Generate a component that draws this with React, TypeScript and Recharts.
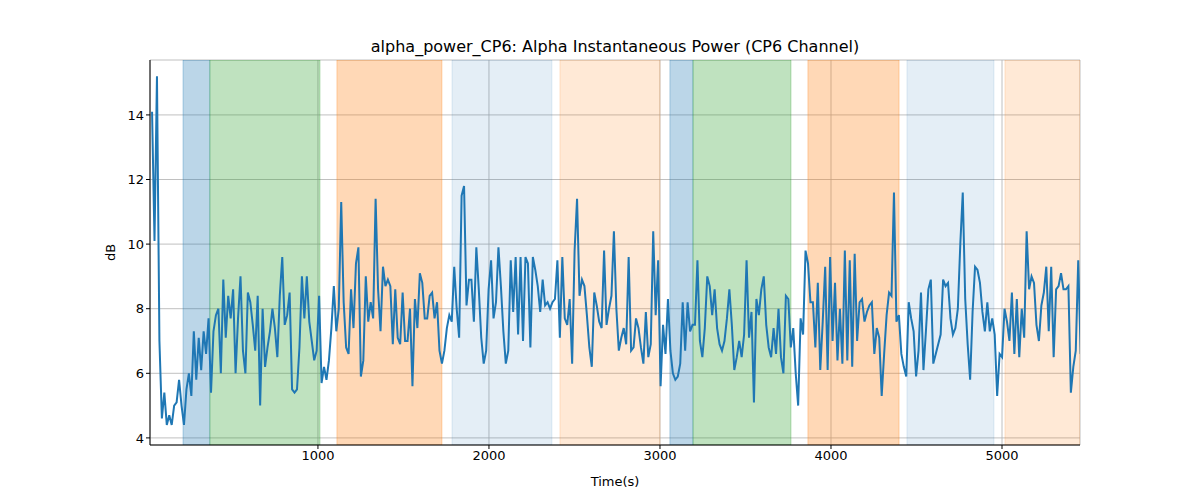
import React from "react";
import {
  LineChart,
  Line,
  XAxis,
  YAxis,
  CartesianGrid,
  ReferenceArea,
} from "recharts";

const T_START = 30;
const T_END = 5460;

const POWER_DB = [
  14.1, 10.1, 15.2, 7.0, 4.6, 5.4, 4.4, 4.7, 4.4, 5.0, 5.1, 5.8, 5.0, 4.4, 5.5, 6.0, 5.3, 7.3, 5.8, 7.1,
  6.1, 7.3, 6.6, 7.7, 5.4, 7.3, 7.8, 8.0, 6.0, 8.9, 7.1, 8.4, 7.7, 8.6, 6.0, 7.7, 9.0, 6.7, 6.0, 8.5,
  8.2, 7.5, 6.7, 8.4, 5.0, 8.0, 6.2, 6.8, 7.3, 8.0, 7.4, 6.5, 8.4, 9.6, 7.5, 7.8, 8.5, 5.5, 5.4, 5.5,
  6.8, 9.0, 7.7, 9.0, 7.6, 7.0, 6.4, 6.7, 8.4, 5.7, 6.2, 5.8, 6.4, 7.4, 8.7, 7.3, 8.0, 11.3, 8.2, 6.8,
  6.6, 8.6, 7.4, 9.4, 9.9, 5.9, 6.4, 9.0, 7.6, 8.2, 7.7, 11.4, 8.6, 7.3, 9.3, 8.7, 8.9, 8.7, 6.9, 8.6,
  7.1, 6.9, 8.5, 7.0, 7.0, 8.0, 5.6, 8.3, 7.4, 9.1, 8.8, 7.7, 7.7, 8.4, 8.5, 7.7, 8.2, 6.7, 6.3, 6.7,
  7.4, 7.8, 7.6, 9.3, 8.0, 7.1, 11.5, 11.8, 8.1, 8.9, 8.9, 7.6, 9.9, 8.6, 7.1, 6.3, 6.7, 8.6, 9.5, 7.7,
  8.2, 9.9, 8.7, 7.3, 6.3, 6.7, 9.5, 7.9, 9.6, 7.2, 9.6, 7.0, 9.6, 9.4, 6.8, 9.6, 9.2, 8.7, 7.9, 8.9,
  8.1, 8.2, 8.0, 8.2, 8.3, 9.5, 7.1, 9.6, 7.7, 7.5, 8.3, 6.3, 9.8, 11.4, 8.4, 8.9, 8.7, 7.8, 6.8, 6.2,
  8.5, 8.1, 7.6, 7.4, 9.8, 7.5, 8.0, 8.4, 10.4, 8.0, 6.7, 7.1, 7.4, 6.9, 9.6, 6.7, 6.8, 7.7, 7.4, 6.8,
  6.3, 7.9, 6.5, 6.9, 10.4, 7.8, 9.5, 5.6, 7.5, 6.6, 8.3, 6.7, 6.0, 5.8, 5.9, 6.3, 8.2, 6.7, 8.2, 7.3,
  7.5, 7.5, 9.5, 7.0, 6.5, 7.4, 9.0, 8.7, 7.8, 8.6, 7.4, 6.9, 6.7, 7.0, 7.7, 8.6, 7.5, 6.1, 6.5, 7.0,
  6.5, 7.2, 9.5, 7.1, 7.9, 5.1, 8.3, 7.8, 8.6, 9.0, 7.5, 6.8, 6.5, 7.4, 6.6, 8.0, 6.5, 6.0, 8.4, 8.3,
  6.8, 7.4, 6.0, 5.0, 7.7, 7.2, 9.8, 9.4, 8.2, 8.2, 6.8, 8.8, 6.1, 7.6, 9.3, 6.1, 9.6, 7.0, 8.8, 6.4,
  8.0, 6.3, 9.8, 6.4, 9.5, 6.2, 9.7, 7.0, 8.2, 8.3, 7.6, 7.9, 8.1, 8.2, 6.6, 7.4, 7.1, 5.3, 6.6, 7.8,
  8.5, 8.4, 11.6, 7.6, 7.8, 6.6, 6.2, 5.9, 8.2, 7.7, 7.3, 5.9, 6.7, 8.5, 6.1, 7.3, 8.6, 8.9, 6.3, 6.6,
  6.9, 7.2, 8.9, 8.7, 8.8, 7.7, 7.2, 7.4, 8.0, 10.0, 11.6, 8.3, 6.9, 5.8, 7.9, 9.3, 9.2, 8.8, 7.9, 7.3,
  8.2, 7.3, 7.7, 7.2, 5.3, 6.6, 6.5, 8.0, 7.6, 7.0, 8.5, 6.6, 8.3, 6.5, 8.0, 7.1, 10.4, 8.6, 9.0, 8.8,
  7.5, 7.0, 8.1, 8.5, 9.3, 7.3, 9.3, 6.5, 8.6, 8.7, 9.1, 8.6, 8.6, 8.7, 5.4, 6.2, 6.7, 9.5, 6.6,
];

const STEP = (T_END - T_START) / (POWER_DB.length - 1);
const data = POWER_DB.map((v, i) => ({ t: T_START + i * STEP, v }));

// shaded segments: [start, end, colour, opacity]
const SEGMENTS: [number, number, string, number][] = [
  [211, 368, "#1f77b4", 0.3],
  [368, 1012, "#2ca02c", 0.3],
  [1111, 1725, "#ff7f0e", 0.3],
  [1784, 2368, "#1f77b4", 0.12],
  [2415, 3000, "#ff7f0e", 0.17],
  [3058, 3193, "#1f77b4", 0.3],
  [3193, 3766, "#2ca02c", 0.3],
  [3865, 4398, "#ff7f0e", 0.3],
  [4444, 4953, "#1f77b4", 0.12],
  [5017, 5456, "#ff7f0e", 0.17],
];

const X_TICKS = [1000, 2000, 3000, 4000, 5000];
const Y_TICKS = [4, 6, 8, 10, 12, 14];

const FONT = "DejaVu Sans, sans-serif";
const tick = { fontSize: 13, fill: "#000", fontFamily: FONT };

export default function App() {
  return (
    <div style={{ position: "fixed", top: 0, left: 0, width: 1200, height: 500, background: "#fff" }}>
      <div
        style={{
          position: "absolute",
          top: 37,
          left: 150,
          width: 930,
          textAlign: "center",
          fontFamily: FONT,
          fontSize: 16,
        }}
      >
        alpha_power_CP6: Alpha Instantaneous Power (CP6 Channel)
      </div>
      <LineChart
        width={1200}
        height={500}
        data={data}
        margin={{ top: 60, right: 120, bottom: 25, left: 100 }}
      >
        {SEGMENTS.map(([a, b, c, o], i) => (
          <ReferenceArea key={i} x1={a} x2={b} fill={c} fillOpacity={o} stroke={c} strokeOpacity={o} ifOverflow="hidden" />
        ))}
        <CartesianGrid stroke="#b0b0b0" strokeWidth={0.8} />
        <XAxis
          dataKey="t"
          type="number"
          domain={[18, 5456]}
          ticks={X_TICKS}
          allowDataOverflow
          height={30}
          tick={tick}
          stroke="#000"
          tickSize={4}
          label={{ value: "Time(s)", position: "insideBottom", offset: -11, style: { ...tick, fontSize: 13 } }}
        />
        <XAxis xAxisId="top" orientation="top" type="number" domain={[18, 5456]} tick={false} stroke="#000" height={0} />
        <YAxis
          type="number"
          domain={[3.78, 15.7]}
          ticks={Y_TICKS}
          allowDataOverflow
          width={50}
          tick={tick}
          stroke="#000"
          tickSize={4}
          label={{ value: "dB", angle: -90, position: "insideLeft", offset: 10, style: { ...tick, textAnchor: "middle" } }}
        />
        <YAxis yAxisId="right" orientation="right" tick={false} stroke="#000" width={0} />
        <Line
          dataKey="v"
          type="linear"
          stroke="#1f77b4"
          strokeWidth={2}
          dot={false}
          isAnimationActive={false}
        />
      </LineChart>
    </div>
  );
}
